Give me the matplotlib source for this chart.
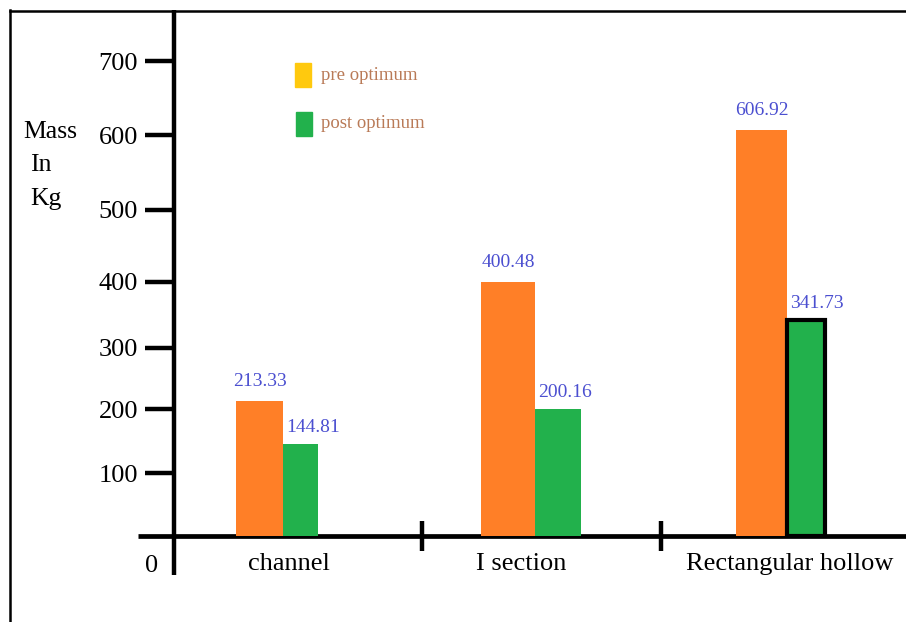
import numpy as np
import matplotlib
matplotlib.use('Agg')
import matplotlib.pyplot as plt
from matplotlib.lines import Line2D
from matplotlib.patches import Rectangle

categories = ['channel', 'I section', 'Rectangular hollow']
pre_optimum = [213.33, 400.48, 606.92]
post_optimum = [144.81, 200.16, 341.73]
y_ticks = [100, 200, 300, 400, 500, 600, 700]

# hand drawn y axis, marks are not evenly spaced (height in px above the x axis)
axis_vals = [-100, 0, 100, 200, 300, 400, 500, 600, 700, 800]
axis_hgt = [-63, 0, 63, 127, 188, 254, 326, 401, 475, 549]


def fwd(v):
    return np.interp(v, axis_vals, axis_hgt)


def inv(h):
    return np.interp(h, axis_hgt, axis_vals)


W, H = 906, 622
plt.rcParams['font.family'] = ['Liberation Serif', 'DejaVu Serif']
orange = '#ff7f27'
green = '#22b14c'
gold = '#ffc90e'
brown = '#b97a57'
blue = '#4b4fd0'

fig = plt.figure(figsize=(W / 100, H / 100), dpi=100)
ax = fig.add_axes([174 / W, (H - 536) / H, (W - 174) / W, 525 / H])
ax.set_yscale('function', functions=(fwd, inv))
ax.set_ylim(0, inv(525))
x = np.arange(len(categories))
ax.set_xlim(-109 / 252, 623 / 252)

# bars are drawn by hand, widths differ a bit
w_pre = np.array([47, 54, 51]) / 252
w_post = np.array([35, 46, 38]) / 252
bars_pre = ax.bar(x - w_pre, pre_optimum, width=w_pre, align='edge', color=orange, zorder=3)
bars_post = ax.bar(x, post_optimum, width=w_post, align='edge', color=green, zorder=3)
bars_post[2].set_edgecolor('black')
bars_post[2].set_linewidth(3)

for i in range(len(categories)):
    ax.annotate('%.2f' % pre_optimum[i], (x[i] - w_pre[i] / 2, pre_optimum[i]), xytext=(0, 8),
                textcoords='offset points', ha='center', va='bottom', color=blue, fontsize=14)
    ax.annotate('%.2f' % post_optimum[i], (x[i], post_optimum[i]), xytext=(2, 6),
                textcoords='offset points', ha='left', va='bottom', color=blue, fontsize=14)

for s in ax.spines.values():
    s.set_visible(False)
# thick axis lines, both run past the corner
ax.plot([0, 0], [-39 / 525, 526 / 525], transform=ax.transAxes, color='black', lw=3.2,
        clip_on=False, solid_capstyle='butt', zorder=2)
ax.plot([-36 / 732, 1], [0, 0], transform=ax.transAxes, color='black', lw=3.4,
        clip_on=False, solid_capstyle='butt', zorder=2)

ax.set_yticks(y_ticks)
ax.set_yticklabels([str(t) for t in y_ticks])
ax.tick_params(axis='y', length=21, width=3.2, direction='out', pad=5, labelsize=19)
ax.set_yticks([], minor=True)
ax.set_xticks([0.024, 0.947, 2.01])
ax.set_xticklabels(categories)
ax.tick_params(axis='x', which='major', length=0, pad=12, labelsize=19)
ax.set_xticks([0.55, 1.5], minor=True)
ax.tick_params(axis='x', which='minor', length=22, width=3.2, direction='inout')

fig.text(152 / W, 1 - 566 / H, '0', fontsize=19, ha='center', va='center')
fig.text(23 / W, 1 - 132 / H, 'Mass', fontsize=18.5, ha='left', va='center')
fig.text(30 / W, 1 - 165 / H, 'In', fontsize=18.5, ha='left', va='center')
fig.text(30 / W, 1 - 199 / H, 'Kg', fontsize=18.5, ha='left', va='center')

# legend drawn by hand
fig.add_artist(Rectangle((295 / W, 1 - 87 / H), 16 / W, 24 / H, transform=fig.transFigure, color=gold))
fig.add_artist(Rectangle((296 / W, 1 - 136 / H), 16 / W, 24 / H, transform=fig.transFigure, color=green))
fig.text(321 / W, 1 - 76 / H, 'pre optimum', fontsize=13.5, color=brown, ha='left', va='center')
fig.text(321 / W, 1 - 124 / H, 'post optimum', fontsize=13.5, color=brown, ha='left', va='center')

# outer frame (left and top only)
fig.add_artist(Line2D([10 / W, 10 / W], [0, 1 - 10 / H], transform=fig.transFigure, color='black', lw=1.8))
fig.add_artist(Line2D([10 / W, 1], [1 - 11 / H, 1 - 11 / H], transform=fig.transFigure, color='black', lw=1.8))

fig.savefig('out.png', dpi=100)
